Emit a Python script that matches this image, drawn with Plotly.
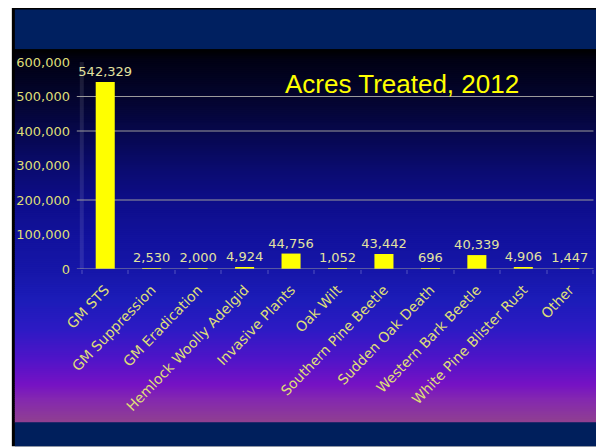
import plotly.graph_objects as go

# ---- data ----
categories = ["GM STS", "GM Suppression", "GM Eradication", "Hemlock Woolly Adelgid",
              "Invasive Plants", "Oak Wilt", "Southern Pine Beetle", "Sudden Oak Death",
              "Western Bark Beetle", "White Pine Blister Rust", "Other"]
acres = [542329, 2530, 2000, 4924, 44756, 1052, 43442, 696, 40339, 4906, 1447]
y_tick_values = [0, 100000, 200000, 300000, 400000, 500000, 600000]
y_tick_labels = ["0", "100,000", "200,000", "300,000", "400,000", "500,000", "600,000"]
visible_gridlines = [200000, 400000, 500000]
title_text = "Acres Treated, 2012"

# ---- layout geometry (page pixels; the page body has an 8px margin) ----
OFF = 8
W, H = 604 - OFF, 447 - OFF
PL, PR = 82.2, 593.5      # plot area left/right (page px)
PT, PB = 61.7, 269.3      # plot area top (600k) / bottom (0) (page px)


def px(x):
    return (x - PL) / (PR - PL)


def py(y):
    return (PB - y) / (PB - PT)


def hex2rgb(h):
    h = h.lstrip("#")
    return tuple(int(h[i:i + 2], 16) for i in (0, 2, 4))


grad_stops = [(49, "#000000"), (60, "#010114"), (100, "#040530"), (130, "#06074a"),
              (170, "#0a0b70"), (200, "#0d0d88"), (240, "#12129e"), (270, "#1616a8"),
              (300, "#1c1cb8"), (330, "#2d1ac4"), (360, "#5014c8"), (385, "#7512c4"),
              (400, "#8428b0"), (423, "#904090")]


def grad_color(y):
    for (y0, c0), (y1, c1) in zip(grad_stops[:-1], grad_stops[1:]):
        if y0 <= y <= y1:
            t = (y - y0) / (y1 - y0)
            a, b = hex2rgb(c0), hex2rgb(c1)
            return "rgb(%d,%d,%d)" % tuple(round(a[i] + (b[i] - a[i]) * t) for i in range(3))
    return grad_stops[-1][1]


shapes = []


def rect(x0, y0, x1, y1, color):
    shapes.append(dict(type="rect", xref="paper", yref="paper",
                       x0=px(x0), x1=px(x1), y0=py(y1), y1=py(y0),
                       fillcolor=color, line=dict(width=0), layer="below"))


# frame
rect(12, 6, 604, 447, "#000000")
rect(12, 6, 604, 7, "#a0a0a0")
rect(15, 9, 600, 49, "#002060")
# gradient background
step = 2
y = 49
while y < 423:
    y2 = min(y + step, 423)
    rect(15, y, 600, y2 + 1, grad_color((y + y2) / 2))
    y = y2
rect(15, 423, 600, 447, "#001f5c")
# faint vertical axis strip
rect(80, PT, 84, PB, "rgba(255,255,255,0.10)")

# gridlines
for g in visible_gridlines:
    shapes.append(dict(type="line", xref="paper", yref="y", x0=px(77), x1=px(594),
                       y0=g, y1=g, line=dict(color="#9c9c9c", width=1), layer="below"))
# baseline
shapes.append(dict(type="line", xref="paper", yref="y", x0=px(77), x1=px(594),
                   y0=0, y1=0, line=dict(color="#9c9c9c", width=1.2), layer="above"))

fig = go.Figure()
fig.add_trace(go.Bar(
    x=categories, y=acres,
    marker=dict(color="#ffff00", line=dict(width=0)),
    texttemplate="%{y:,}", textposition="outside", constraintext="none",
    cliponaxis=False,
    textfont=dict(family="DejaVu Sans", size=13, color="#e2e2a0"),
    hoverinfo="skip",
))

fig.update_layout(
    width=W, height=H,
    margin=dict(l=PL - OFF, r=604 - PR, t=PT - OFF, b=447 - PB, pad=0),
    paper_bgcolor="#ffffff", plot_bgcolor="rgba(0,0,0,0)",
    showlegend=False, bargap=0.59,
    shapes=shapes,
    annotations=[dict(text=title_text, xref="paper", yref="paper",
                      x=px(283), y=py(84), xanchor="left", yanchor="middle",
                      showarrow=False,
                      font=dict(family="Liberation Sans, Arial", size=26, color="#ffff00"))],
)
fig.update_xaxes(
    type="category", tickangle=-46, automargin=False,
    showline=False, showgrid=False, zeroline=False,
    ticks="outside", tickson="boundaries", ticklen=4, tickwidth=2, tickcolor="#3434b4",
    ticklabelstandoff=9,
    tickfont=dict(family="DejaVu Sans", size=14, color="#dede78"),
)
fig.update_yaxes(
    range=[0, 600000], automargin=False,
    tickvals=y_tick_values, ticktext=y_tick_labels,
    showgrid=False, zeroline=False, showline=False, ticks="",
    ticklabelstandoff=11,
    tickfont=dict(family="DejaVu Sans", size=13, color="#dede78"),
)

fig.write_html("out.html")
